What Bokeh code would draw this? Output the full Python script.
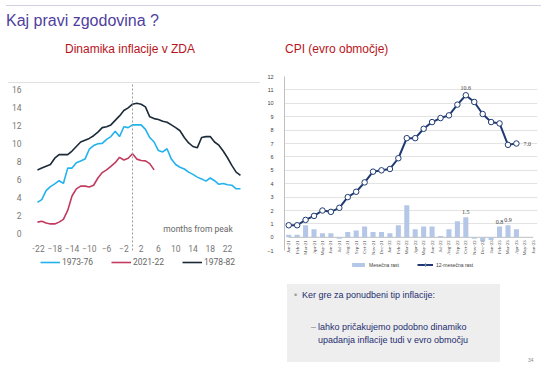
from math import pi
from bokeh.plotting import figure
from bokeh.models import (ColumnDataSource, FixedTicker, Legend, LegendItem, Label, LabelSet,
                          Div, Spacer, Span, FactorRange, Range1d)
from bokeh.layouts import column, row
from bokeh.embed import file_html
from bokeh.resources import INLINE

# ---------------- data ----------------
months_from_peak = list(range(-22, 26))
us_1973_76 = [3.5, 3.8, 4.8, 5.25, 5.55, 5.9, 5.6, 7.3, 7.3, 7.9, 8.1, 8.3, 9.4, 9.8, 10.0, 10.05,
              10.5, 10.8, 11.4, 10.8, 11.9, 11.8, 12.1,
              12.1, 12.1, 11.6, 10.7, 10.2, 9.25, 9.1, 9.45, 8.3, 7.7, 7.4, 7.2, 6.85, 6.6, 6.3,
              6.1, 5.85, 6.2, 5.9, 5.5, 5.6, 5.45, 5.4, 5.0, 5.0]
us_2021_22 = [1.3, 1.4, 1.2, 1.1, 1.1, 1.3, 1.6, 2.6, 4.2, 5.0, 5.3, 5.3, 5.2, 5.4, 6.2, 6.8,
              7.1, 7.5, 7.9, 8.5, 8.2, 8.4, 8.9, 8.3, 8.15, 8.1, 7.8, 7.1]
us_1978_82 = [7.1, 7.3, 7.5, 7.7, 8.4, 8.8, 8.8, 8.8, 9.2, 9.7, 10.2, 10.4, 10.6, 10.9, 11.3,
              11.8, 11.9, 12.1, 12.6, 13.1, 13.7, 14.0, 14.4,
              14.5, 14.4, 14.1, 13.0, 12.8, 12.7, 12.5, 12.4, 12.1, 11.8, 11.45, 10.7, 10.1,
              9.7, 9.55, 10.7, 10.8, 10.8, 10.2, 9.85, 9.2, 8.45, 7.6, 6.85, 6.5]
us_x_ticks = list(range(-22, 23, 4))
us_y_ticks = list(range(0, 17, 2))
us_series_names = ["1973-76", "2021-22", "1978-82"]
peak_month = 0

cpi_months = ["Jan-21", "Feb-21", "Mar-21", "Apr-21", "May-21", "Jun-21", "Jul-21", "Aug-21",
              "Sep-21", "Oct-21", "Nov-21", "Dec-21", "Jan-22", "Feb-22", "Mar-22", "Apr-22",
              "May-22", "Jun-22", "Jul-22", "Aug-22", "Sep-22", "Oct-22", "Nov-22", "Dec-22",
              "Jan-23", "Feb-23", "Mar-23", "Apr-23", "May-23", "Jun-23"]
cpi_12m = [0.9, 0.9, 1.3, 1.6, 2.0, 1.9, 2.2, 3.0, 3.4, 4.1, 4.9, 5.0, 5.1, 5.9, 7.4, 7.4,
           8.1, 8.6, 8.9, 9.1, 9.9, 10.6, 10.1, 9.2, 8.6, 8.5, 6.9, 7.0]
cpi_mom = [0.2, 0.2, 0.9, 0.6, 0.3, 0.3, -0.1, 0.4, 0.5, 0.8, 0.4, 0.4, 0.3, 0.9, 2.4, 0.6,
           0.8, 0.8, 0.1, 0.6, 1.2, 1.5, -0.1, -0.3, -0.2, 0.8, 0.9, 0.6]
cpi_y_ticks = list(range(-1, 13))
cpi_grid_ticks = list(range(1, 13))
line_label_top = ["Oct-22"]
line_label_right = ["Apr-23"]
bar_label_months = ["Oct-22", "Feb-23", "Mar-23"]

FONT = "Liberation Sans"
RED_TITLE = "#b8141c"

# ---------------- left chart ----------------
left = figure(width=256, height=222, x_range=Range1d(-23.15, 29.64), y_range=Range1d(-4.63, 16.7),
              output_backend="svg", toolbar_location=None, min_border_left=22, min_border_right=4,
              min_border_top=0, min_border_bottom=30, outline_line_color=None, margin=0)
left.grid.visible = False
xa = left.xaxis[0]
xa.fixed_location = 0
xa.ticker = FixedTicker(ticks=us_x_ticks)
ya = left.yaxis[0]
ya.ticker = FixedTicker(ticks=us_y_ticks)
for ax in (xa, ya):
    ax.axis_line_color = None
    ax.major_tick_line_color = None
    ax.minor_tick_line_color = None
    ax.major_label_text_font = "Roboto"
    ax.major_label_text_font_size = "8.5px"
    ax.major_label_text_color = "#777777"
    ax.major_label_standoff = 5

n_red = len(us_2021_22)
r_a = left.line(months_from_peak, us_1973_76, line_color="#22b2ee", line_width=1.6)
r_b = left.line(months_from_peak[:n_red], us_2021_22, line_color="#c23a5e", line_width=1.6)
r_c = left.line(months_from_peak, us_1978_82, line_color="#1b2b3a", line_width=1.6)
left.segment(x0=[peak_month], y0=[-1.85], x1=[peak_month], y1=[16.7],
             line_color="#9a9a9a", line_dash="2 2", line_width=1)

left.add_layout(Label(x=23.2, y=0.55, text="months from peak", text_align="right",
                      text_baseline="middle", text_font="Roboto", text_font_size="8.5px",
                      text_color="#666666"))

leg_l = Legend(items=[LegendItem(label=n, renderers=[r]) for n, r in zip(us_series_names, [r_a, r_b, r_c])],
               location=(8, 8), orientation="horizontal", glyph_width=20, glyph_height=10,
               label_height=10, label_standoff=2, spacing=18, padding=0, margin=0,
               label_text_font="Roboto", label_text_font_size="8.5px", label_text_color="#666666",
               border_line_color=None, background_fill_alpha=0)
left.add_layout(leg_l)

# ---------------- right chart ----------------
right = figure(width=277, height=221, x_range=FactorRange(factors=cpi_months),
               y_range=Range1d(-3.52, 12), x_axis_location=None,
               output_backend="svg", toolbar_location=None, min_border_left=13, min_border_right=4,
               min_border_top=13, min_border_bottom=0, outline_line_color=None, margin=0)
right.xgrid.visible = False
right.ygrid.ticker = FixedTicker(ticks=cpi_grid_ticks)
right.ygrid.grid_line_color = "#e3e3e3"
rya = right.yaxis[0]
rya.ticker = FixedTicker(ticks=cpi_y_ticks)
rya.bounds = (-1, 12)
rya.axis_line_color = "#bfbfbf"
rya.major_tick_line_color = None
rya.minor_tick_line_color = None
rya.major_label_text_font = FONT
rya.major_label_text_font_size = "5.5px"
rya.major_label_text_color = "#404040"
rya.major_label_standoff = 5

n_obs = len(cpi_12m)
src = ColumnDataSource(dict(month=cpi_months[:n_obs], yoy=cpi_12m, mom=cpi_mom))
base_src = ColumnDataSource(dict(month=[cpi_months[0], cpi_months[-1]], base=[0, 0]))
right.segment(x0=[cpi_months[0]], y0=[0], x1=[cpi_months[-1]], y1=[0], line_color="#bfbfbf",
              line_width=1)
bar_r = right.vbar(x="month", top="mom", width=0.6, source=src, fill_color="#b4c7e7", line_color=None)
line_r = right.line(x="month", y="yoy", source=src, line_color="#1f3a73", line_width=2)
circ_r = right.scatter(x="month", y="yoy", source=src, size=5.5, fill_color="white",
                       line_color="#1f3a73", line_width=1)

def subset(keys):
    idx = [cpi_months.index(k) for k in keys]
    return ColumnDataSource(dict(month=[cpi_months[i] for i in idx], yoy=[cpi_12m[i] for i in idx],
                                 mom=[cpi_mom[i] for i in idx],
                                 yoy_t=[f"{cpi_12m[i]:.1f}" for i in idx],
                                 mom_t=[f"{cpi_mom[i]:.1f}" for i in idx]))

lbl_style = dict(text_font=FONT, text_font_size="6px", text_color="#404040")
right.add_layout(LabelSet(x="month", y="yoy", text="yoy_t", source=subset(line_label_top),
                          text_align="center", text_baseline="bottom", y_offset=5, **lbl_style))
right.add_layout(LabelSet(x="month", y="yoy", text="yoy_t", source=subset(line_label_right),
                          text_align="left", text_baseline="middle", x_offset=7, **lbl_style))
right.add_layout(LabelSet(x="month", y="mom", text="mom_t", source=subset(bar_label_months),
                          text_align="center", text_baseline="bottom", y_offset=3, **lbl_style))

xl_src = ColumnDataSource(dict(month=cpi_months, base=[0] * len(cpi_months)))
right.add_layout(LabelSet(x="month", y="base", text="month", source=xl_src, angle=pi / 2,
                          text_align="right", text_baseline="middle", y_offset=-3,
                          text_font=FONT, text_font_size="4.8px", text_color="#404040"))

leg_r = Legend(items=[LegendItem(label="Mesečna rast", renderers=[bar_r]),
                      LegendItem(label="12-mesečna rast", renderers=[line_r, circ_r])],
               orientation="horizontal", location=(66, 16), glyph_width=16, glyph_height=5,
               label_height=7, label_standoff=3, spacing=18, padding=0, margin=0,
               label_text_font=FONT, label_text_font_size="5px", label_text_color="#404040",
               border_line_color=None, background_fill_alpha=0)
right.add_layout(leg_r)

# ---------------- text blocks ----------------
title_div = Div(width=535, height=33, margin=0, text=(
    '<div style="position:relative;width:535px;height:33px;">'
    '<div style="position:absolute;left:0;top:0;width:535px;height:1px;background:#d4d0e2;"></div>'
    f'<div style="position:absolute;left:0px;top:7px;font-family:\'{FONT}\';font-size:16px;'
    'line-height:18px;color:#4f3f9e;white-space:nowrap;">Kaj pravi zgodovina ?</div></div>'))

left_title = Div(width=256, height=45, margin=0, text=(
    '<div style="position:relative;width:256px;height:45px;">'
    f'<div style="position:absolute;left:57px;top:4px;font-family:\'{FONT}\';font-size:12px;'
    f'line-height:14px;color:{RED_TITLE};white-space:nowrap;">Dinamika inflacije v ZDA</div>'
    '<div style="position:absolute;left:0;top:44px;width:252px;height:1px;background:#e2e2e2;"></div>'
    '</div>'))

right_title = Div(width=277, height=25, margin=0, text=(
    '<div style="position:relative;width:277px;height:25px;">'
    f'<div style="position:absolute;left:21px;top:4px;font-family:\'{FONT}\';font-size:12px;'
    f'line-height:14px;color:{RED_TITLE};white-space:nowrap;">CPI (evro območje)</div></div>'))

box_div = Div(width=213, height=78, margin=0, text=(
    f'<div style="position:relative;width:213px;height:78px;background:#eeeeee;'
    f'font-family:\'{FONT}\';font-size:9px;line-height:12px;color:#1f2d6e;white-space:nowrap;">'
    '<div style="position:absolute;left:7px;top:5px;color:#9a9a9a;">&#8226;</div>'
    '<div style="position:absolute;left:15px;top:5px;">Ker gre za ponudbeni tip inflacije:</div>'
    '<div style="position:absolute;left:24px;top:37px;color:#8a8a8a;">&#8211;</div>'
    '<div style="position:absolute;left:31px;top:37px;">lahko pričakujemo podobno dinamiko</div>'
    '<div style="position:absolute;left:31px;top:50px;">upadanja inflacije tudi v evro območju</div>'
    '</div>'))

num_div = Div(width=13, height=78, margin=0, text=(
    f'<div style="position:relative;width:13px;height:78px;font-family:\'{FONT}\';'
    'font-size:5px;color:#888888;"><div style="position:absolute;left:0;top:73px;">34</div></div>'))

left_col = column(left_title, left, spacing=0, margin=0)
bottom_row = row(Spacer(width=23, height=78, margin=0), box_div,
                 Spacer(width=28, height=78, margin=0), num_div, spacing=0, margin=0)
right_col = column(right_title, right, bottom_row, spacing=0, margin=0)
charts = row(left_col, right_col, spacing=0, margin=(0, 0, 0, 2))
layout = column(title_div, charts, spacing=0, margin=(5, 0, 0, 6))

open("out.html", "w").write(file_html(layout, INLINE))
